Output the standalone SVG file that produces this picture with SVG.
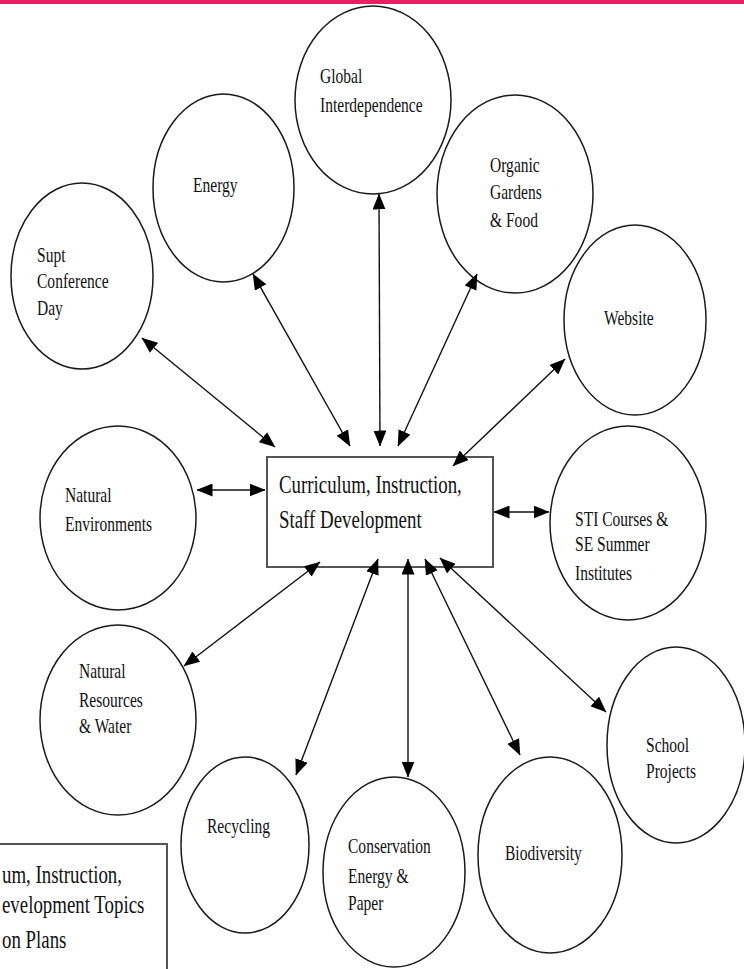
<svg xmlns="http://www.w3.org/2000/svg" width="744" height="969" viewBox="0 0 744 969" font-family="'Liberation Serif', 'DejaVu Serif', serif">
<style>
.c{fill:none;stroke:#1a1a1a;stroke-width:1.5}
text{font-family:'Liberation Serif','DejaVu Serif',serif;fill:#111}
.t{font-size:21px}
.tb{font-size:25.5px}
.box{fill:#fff;stroke:#555;stroke-width:2}
.a{stroke:#111;stroke-width:1.4;fill:none;marker-start:url(#ah);marker-end:url(#ah)}
</style>
<defs>
<marker id="ah" viewBox="0 0 16 13" refX="15.5" refY="6.5" markerWidth="16" markerHeight="13" markerUnits="userSpaceOnUse" orient="auto-start-reverse">
<path d="M0,0 L16,6.5 L0,13 Z" fill="#000"/>
</marker>
</defs>
<rect x="0" y="0" width="744" height="4" fill="#e91e63"/>

<g id="center">
<rect class="box" x="267" y="457" width="226" height="110"/>
<g transform="translate(279,0) scale(0.74,1)"><text class="tb" x="0" y="493">Curriculum, Instruction,</text><text class="tb" x="0" y="528">Staff Development</text></g>
</g>

<g id="legend">
<rect class="box" x="-3" y="844" width="170" height="140"/>
<g transform="translate(2,0) scale(0.74,1)"><text class="tb" x="0" y="883">um, Instruction,</text><text class="tb" x="0" y="913">evelopment Topics</text><text class="tb" x="0" y="948">on Plans</text></g>
</g>

<g id="global">
<ellipse class="c" cx="373" cy="100" rx="78" ry="94"/>
<g transform="translate(320,0) scale(0.74,1)"><text class="t" x="0" y="83">Global</text><text class="t" x="0" y="112">Interdependence</text></g>
</g>
<g id="energy">
<ellipse class="c" cx="223.5" cy="188" rx="70.5" ry="94"/>
<g transform="translate(193,0) scale(0.74,1)"><text class="t" x="0" y="192">Energy</text></g>
</g>
<g id="supt">
<ellipse class="c" cx="82" cy="276" rx="71" ry="93"/>
<g transform="translate(37,0) scale(0.74,1)"><text class="t" x="0" y="262">Supt</text><text class="t" x="0" y="288">Conference</text><text class="t" x="0" y="315">Day</text></g>
</g>
<g id="organic">
<ellipse class="c" cx="515" cy="194" rx="78" ry="99"/>
<g transform="translate(490,0) scale(0.74,1)"><text class="t" x="0" y="172">Organic</text><text class="t" x="0" y="199">Gardens</text><text class="t" x="0" y="227">&amp; Food</text></g>
</g>
<g id="website">
<ellipse class="c" cx="635" cy="320" rx="71" ry="95"/>
<g transform="translate(604,0) scale(0.74,1)"><text class="t" x="0" y="325">Website</text></g>
</g>
<g id="sti">
<ellipse class="c" cx="628" cy="523" rx="78" ry="97"/>
<g transform="translate(575,0) scale(0.74,1)"><text class="t" x="0" y="526">STI Courses &amp;</text><text class="t" x="0" y="551">SE Summer</text><text class="t" x="0" y="580">Institutes</text></g>
</g>
<g id="school">
<ellipse class="c" cx="676" cy="745" rx="69" ry="98"/>
<g transform="translate(646,0) scale(0.74,1)"><text class="t" x="0" y="752">School</text><text class="t" x="0" y="778">Projects</text></g>
</g>
<g id="natenv">
<ellipse class="c" cx="118" cy="518" rx="78" ry="92"/>
<g transform="translate(65,0) scale(0.74,1)"><text class="t" x="0" y="502">Natural</text><text class="t" x="0" y="531">Environments</text></g>
</g>
<g id="natres">
<ellipse class="c" cx="118" cy="720" rx="78" ry="95"/>
<g transform="translate(79,0) scale(0.74,1)"><text class="t" x="0" y="678">Natural</text><text class="t" x="0" y="707">Resources</text><text class="t" x="0" y="733">&amp; Water</text></g>
</g>
<g id="recycling">
<ellipse class="c" cx="245" cy="845" rx="64" ry="88"/>
<g transform="translate(207,0) scale(0.74,1)"><text class="t" x="0" y="833">Recycling</text></g>
</g>
<g id="conservation">
<ellipse class="c" cx="394" cy="872" rx="71" ry="95"/>
<g transform="translate(348,0) scale(0.74,1)"><text class="t" x="0" y="853">Conservation</text><text class="t" x="0" y="883">Energy &amp;</text><text class="t" x="0" y="910">Paper</text></g>
</g>
<g id="biodiversity">
<ellipse class="c" cx="550" cy="855" rx="72" ry="98"/>
<g transform="translate(505,0) scale(0.74,1)"><text class="t" x="0" y="860">Biodiversity</text></g>
</g>

<g id="connectors">
<line class="a" x1="142" y1="338" x2="275" y2="447"/>
<line class="a" x1="253" y1="274" x2="350" y2="446"/>
<line class="a" x1="379" y1="194" x2="380" y2="446"/>
<line class="a" x1="477" y1="274" x2="398" y2="446"/>
<line class="a" x1="565" y1="359" x2="453" y2="466"/>
<line class="a" x1="197" y1="490" x2="265" y2="490"/>
<line class="a" x1="494" y1="512" x2="549" y2="512"/>
<line class="a" x1="184" y1="666" x2="320" y2="562"/>
<line class="a" x1="296" y1="775" x2="378" y2="559"/>
<line class="a" x1="408" y1="777" x2="408" y2="559"/>
<line class="a" x1="520" y1="755" x2="425" y2="559"/>
<line class="a" x1="606" y1="712" x2="440" y2="558"/>
</g>
</svg>
